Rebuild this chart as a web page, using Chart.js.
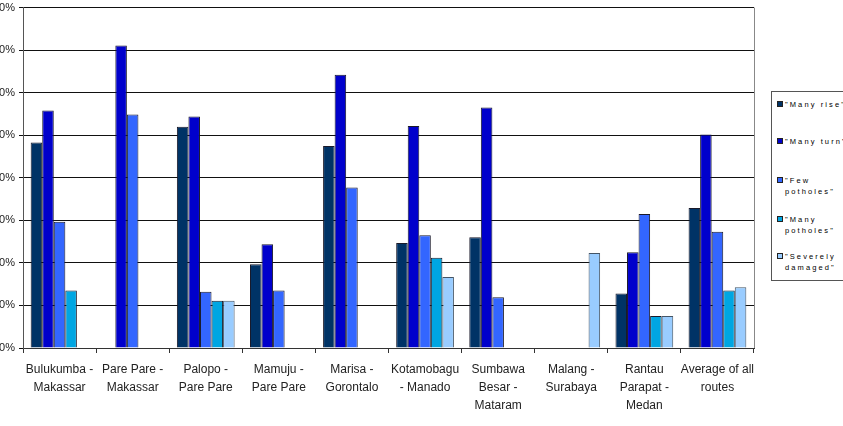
<!DOCTYPE html>
<html>
<head>
<meta charset="utf-8">
<script src="https://cdn.jsdelivr.net/npm/chart.js@4.4.1/dist/chart.umd.min.js"></script>
<style>
  html, body { margin: 0; padding: 0; background: #fff; overflow: hidden; width: 843px; height: 426px; }
  #wrap { position: absolute; left: -10px; top: -3px; width: 774px; height: 429px; }
  #legend { position: absolute; left: 771px; top: 91px; width: 90px; height: 188px; border: 1px solid #555; background: #fff;
            font-family: "Liberation Sans", Arial, sans-serif; font-size: 7.5px; letter-spacing: 2.1px; color: #000; }
  .item { position: absolute; left: 5px; }
  .sw { position: absolute; left: 0; top: 0; width: 4px; height: 4px; border: 1px solid #222; }
  .txt { position: absolute; left: 8px; top: -2px; line-height: 11px; white-space: nowrap; }
</style>
</head>
<body>
<div id="wrap"><canvas id="Chart_1"></canvas></div>
<div id="legend"></div>
<script>
let routes = [["Bulukumba -","Makassar"],["Pare Pare -","Makassar"],["Palopo -","Pare Pare"],["Mamuju -","Pare Pare"],["Marisa -","Gorontalo"],["Kotamobagu","- Manado"],["Sumbawa","Besar -","Mataram"],["Malang -","Surabaya"],["Rantau","Parapat -","Medan"],["Average of all","routes"]];
let manyRise     = [48.3, null, 52.0, 19.7, 47.5, 24.7, 26.0, null, 12.8, 32.9];
let manyTurn     = [55.8, 71.1, 54.4, 24.4, 64.2, 52.2, 56.5, null, 22.5, 50.2];
let fewPotholes  = [29.7, 54.9, 13.2, 13.5, 37.7, 26.5, 11.9, null, 31.5, 27.3];
let manyPotholes = [13.5, null, 11.1, null, null, 21.2, null, null, 7.5, 13.5];
let severely     = [null, null, 11.1, null, null, 16.7, null, 22.3, 7.5, 14.3];
let seriesNames  = ['"Many rise"', '"Many turn"', ['"Few', 'potholes"'], ['"Many', 'potholes"'], ['"Severely', 'damaged"']];
let yTicks = [0, 10, 20, 30, 40, 50, 60, 70, 80];

let colors = ['#003366', '#0000CC', '#3366FF', '#00A6E2', '#99CCFF'];
let allData = [manyRise, manyTurn, fewPotholes, manyPotholes, severely];

let datasets = allData.map(function (d, i) {
  return {
    label: [].concat(seriesNames[i]).join(' '),
    data: d,
    backgroundColor: colors[i],
    borderColor: i == 4 ? '#445566' : '#1a1a2a',
    borderWidth: 1,
    borderSkipped: 'bottom',
    barPercentage: 1,
    categoryPercentage: 0.79
  };
});

let plotBorder = {
  id: 'plotBorder',
  beforeDatasetsDraw: function (chart) {
    let a = chart.chartArea, c = chart.ctx;
    c.save();
    c.strokeStyle = '#888';
    c.lineWidth = 1;
    c.beginPath();
    c.moveTo(Math.round(a.right) + 0.5, a.top);
    c.lineTo(Math.round(a.right) + 0.5, a.bottom);
    c.stroke();
    c.restore();
  }
};

let cxt = document.getElementById('Chart_1');
let grafigo = new Chart(cxt, {
  type: 'bar',
  data: { labels: routes, datasets: datasets },
  options: {
    responsive: true,
    maintainAspectRatio: false,
    animation: false,
    layout: { padding: { top: 0, right: 10, left: 0, bottom: 0 } },
    plugins: { legend: { display: false }, tooltip: { enabled: false } },
    scales: {
      x: {
        grid: { offset: true, drawOnChartArea: false, drawTicks: true, tickLength: 5, color: '#333' },
        border: { color: '#333' },
        ticks: { color: '#222', padding: 8, maxRotation: 0, autoSkip: false,
                 font: { family: '"Liberation Sans", Arial', size: 12, lineHeight: 1.5 } },
        afterFit: function (s) { s.height = 78; }
      },
      y: {
        min: 0, max: 80,
        afterBuildTicks: function (s) { s.ticks = yTicks.map(function (v) { return { value: v }; }); },
        grid: { color: '#111', tickLength: 4, drawTicks: true },
        border: { color: '#555' },
        ticks: { color: '#222', padding: 4,
                 font: { family: '"Liberation Sans", Arial', size: 11 },
                 callback: function (v) { return v + '%'; } },
        afterFit: function (s) { s.width = 33; }
      }
    }
  },
  plugins: [plotBorder]
});

// legend box
let leg = document.getElementById('legend');
let rowsTop = [9, 46, 85, 124, 161];
seriesNames.forEach(function (n, i) {
  let it = document.createElement('div');
  it.className = 'item';
  it.style.top = rowsTop[i] + 'px';
  it.innerHTML = '<div class="sw" style="background:' + colors[i] + '"></div><div class="txt">' + [].concat(n).join('<br>') + '</div>';
  leg.appendChild(it);
});
</script>
</body>
</html>
